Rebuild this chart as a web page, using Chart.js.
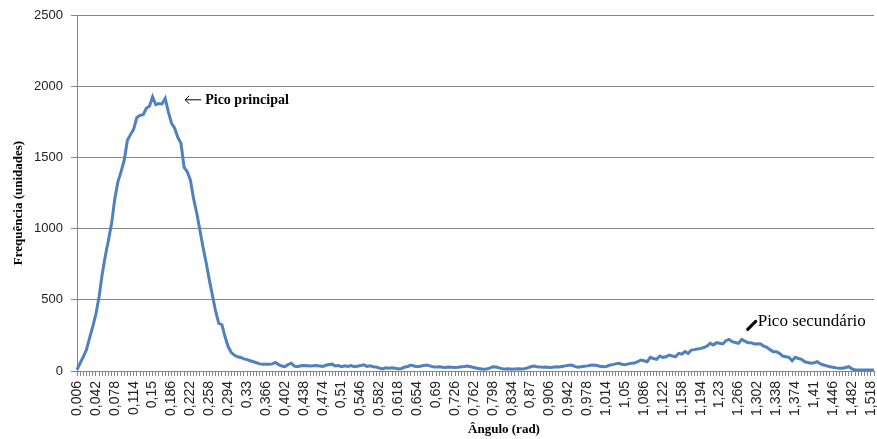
<!DOCTYPE html>
<html>
<head>
<meta charset="utf-8">
<script src="https://cdn.jsdelivr.net/npm/chart.js@4.4.1/dist/chart.umd.min.js"></script>
<style>
  html, body { margin: 0; padding: 0; background: #fff; }
  #wrap { width: 877px; height: 439px; position: relative; }
</style>
</head>
<body>
<div id="wrap"><canvas id="grafico"></canvas></div>
<script>
// angulo inicial e passo (rad) das categorias
const anguloInicial = 0.006
const passo = 0.006

// frequencia, um valor por angulo
const frequencia = [
    10, 55, 100, 150, 232, 311, 400, 520, 680, 810,
    920, 1040, 1210, 1330, 1400, 1480, 1620, 1660, 1700, 1780,
    1795, 1800, 1845, 1860, 1925, 1870, 1878, 1875, 1915, 1820,
    1740, 1705, 1640, 1600, 1430, 1400, 1340, 1210, 1110, 990,
    870, 760, 640, 530, 420, 335, 325, 240, 170, 130,
    110, 100, 95, 85, 80, 72, 65, 58, 50, 47,
    47, 47, 50, 60, 45, 35, 30, 45, 55, 35,
    30, 37, 38, 37, 36, 37, 38, 35, 32, 40,
    45, 48, 35, 38, 30, 36, 32, 38, 30, 34,
    38, 44, 32, 36, 30, 28, 20, 14, 22, 20,
    22, 20, 14, 18, 28, 32, 42, 35, 30, 34,
    38, 42, 36, 30, 28, 30, 26, 24, 28, 26,
    25, 27, 30, 32, 35, 30, 24, 20, 16, 12,
    14, 20, 30, 28, 22, 16, 14, 15, 13, 14,
    15, 14, 16, 22, 30, 35, 30, 28, 26, 28,
    25, 26, 30, 28, 32, 36, 40, 42, 32, 26,
    30, 34, 36, 40, 42, 38, 34, 30, 32, 40,
    45, 50, 54, 48, 44, 50, 54, 56, 65, 77,
    72, 65, 96, 88, 82, 105, 96, 100, 112, 105,
    100, 124, 118, 136, 124, 147, 150, 155, 159, 165,
    175, 194, 183, 199, 195, 190, 213, 222, 206, 200,
    194, 222, 210, 199, 199, 190, 192, 190, 175, 166,
    150, 136, 136, 124, 105, 100, 96, 72, 96, 88,
    82, 65, 60, 54, 58, 65, 50, 42, 36, 30,
    26, 22, 19, 20, 25, 30, 15, 7, 7, 7,
    7, 7, 7, 7
]

// rotulos mostrados no eixo x (um a cada 6 categorias)
const rotulosX = [
    '0,006', '0,042', '0,078', '0,114', '0,15', '0,186', '0,222', '0,258', '0,294', '0,33',
    '0,366', '0,402', '0,438', '0,474', '0,51', '0,546', '0,582', '0,618', '0,654', '0,69',
    '0,726', '0,762', '0,798', '0,834', '0,87', '0,906', '0,942', '0,978', '1,014', '1,05',
    '1,086', '1,122', '1,158', '1,194', '1,23', '1,266', '1,302', '1,338', '1,374', '1,41',
    '1,446', '1,482', '1,518'
]
const ticksY = [0, 500, 1000, 1500, 2000, 2500]

const angulos = frequencia.map((v, i) => (anguloInicial + i * passo).toFixed(3).replace('.', ','))

const picoPrincipal = 28
const picoSecundario = 211

const textos = {
    id: 'textos',
    afterDraw(chart) {
        const ctx = chart.ctx
        const x = chart.scales.x
        const y = chart.scales.y
        ctx.save()
        ctx.fillStyle = '#000'
        ctx.strokeStyle = '#000'

        // titulo eixo y
        ctx.save()
        ctx.translate(19, 203)
        ctx.rotate(-Math.PI / 2)
        ctx.font = 'bold 13px "Liberation Serif"'
        ctx.textAlign = 'center'
        ctx.textBaseline = 'middle'
        ctx.fillText('Frequência (unidades)', 0, 0)
        ctx.restore()

        // titulo eixo x
        ctx.font = 'bold 13px "Liberation Serif"'
        ctx.textAlign = 'center'
        ctx.textBaseline = 'middle'
        ctx.fillText('Ângulo (rad)', 504, 430)

        // pico principal, com seta
        const px = x.getPixelForValue(picoPrincipal)
        const py = y.getPixelForValue(frequencia[picoPrincipal])
        ctx.font = 'bold 14px "Liberation Serif"'
        ctx.textAlign = 'left'
        ctx.fillText('Pico principal', px + 40, py + 2)
        ctx.lineWidth = 1
        ctx.beginPath()
        ctx.moveTo(px + 20, py + 1.5)
        ctx.lineTo(px + 36, py + 1.5)
        ctx.moveTo(px + 24, py - 2.5)
        ctx.lineTo(px + 20, py + 1.5)
        ctx.lineTo(px + 24, py + 5.5)
        ctx.stroke()

        // pico secundario
        const sx = x.getPixelForValue(picoSecundario)
        const sy = y.getPixelForValue(frequencia[picoSecundario])
        ctx.font = '17px "Liberation Serif"'
        ctx.fillText('Pico secundário', sx + 16, sy - 18)
        ctx.lineWidth = 3
        ctx.lineCap = 'round'
        ctx.beginPath()
        ctx.moveTo(sx + 6, sy - 10)
        ctx.lineTo(sx + 14, sy - 18)
        ctx.stroke()
        ctx.restore()
    }
}

new Chart(document.getElementById('grafico'), {
    type: 'line',
    data: {
        labels: angulos,
        datasets: [{
            data: frequencia,
            borderColor: '#4f81bd',
            borderWidth: 3,
            pointRadius: 0,
            tension: 0,
            fill: false
        }]
    },
    options: {
        responsive: true,
        maintainAspectRatio: false,
        animation: false,
        layout: { padding: { top: 15, right: 3, left: 0, bottom: 0 } },
        plugins: { legend: { display: false }, tooltip: { enabled: false } },
        scales: {
            x: {
                offset: false,
                afterFit: s => {
                    s.height = 68
                    s.paddingLeft = 0
                    s.paddingRight = 0
                },
                border: { color: '#868686' },
                grid: { drawOnChartArea: false, color: '#868686', tickLength: 5 },
                ticks: {
                    autoSkip: false,
                    maxRotation: 90,
                    minRotation: 90,
                    padding: 5,
                    color: '#222',
                    font: { family: '"Liberation Sans"', size: 14 },
                    callback: (v, i) => i % 6 === 0 ? rotulosX[i / 6] : ''
                }
            },
            y: {
                min: 0,
                max: 2500,
                afterFit: s => {
                    s.width = 77
                    s.paddingTop = 0
                    s.paddingBottom = 0
                },
                afterBuildTicks: s => { s.ticks = ticksY.map(v => ({ value: v })) },
                border: { color: '#868686' },
                grid: { color: '#868686', tickLength: 6 },
                ticks: {
                    padding: 8,
                    color: '#222',
                    font: { family: '"Liberation Sans"', size: 13 },
                    callback: v => String(v)
                }
            }
        }
    },
    plugins: [textos]
})
</script>
</body>
</html>
